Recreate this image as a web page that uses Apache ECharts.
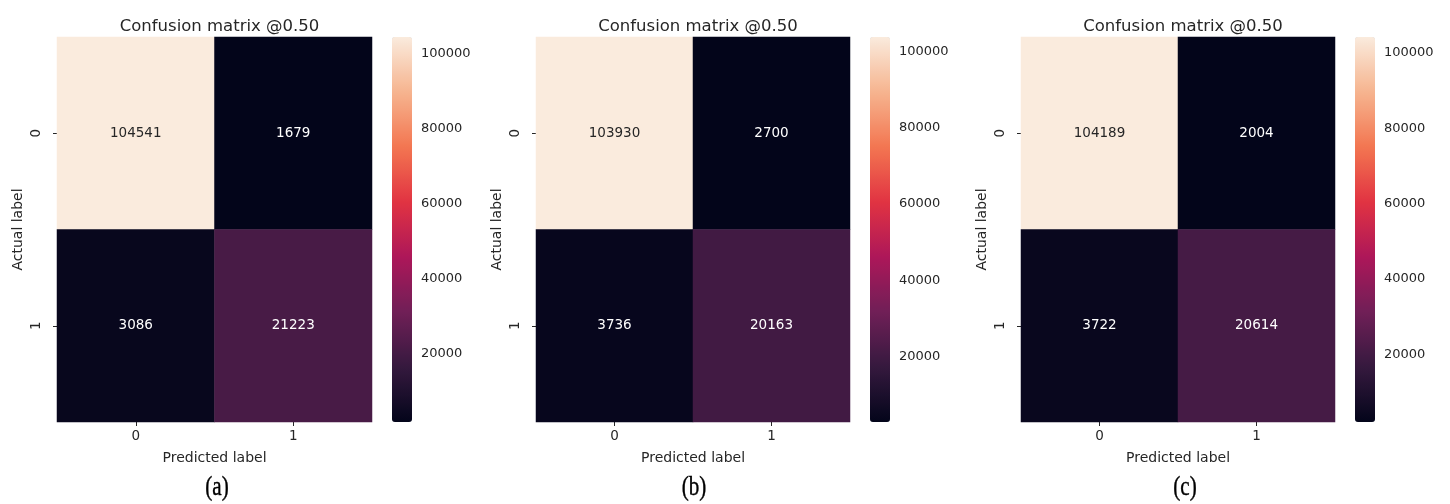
<!DOCTYPE html>
<html>
<head>
<meta charset="utf-8">
<script src="https://cdn.jsdelivr.net/npm/echarts@6/dist/echarts.min.js"></script>
<style>
html,body{margin:0;padding:0;background:#fff;}
#chart{width:1450px;height:504px;}
</style>
</head>
<body>
<div id="chart"></div>
<script>
// ---- data ----
const predictedLabels = ['0', '1'];
const actualLabels = ['0', '1'];
const matrixA = [[104541, 1679], [3086, 21223]];
const matrixB = [[103930, 2700], [3736, 20163]];
const matrixC = [[104189, 2004], [3722, 20614]];
const panelTitles = ['Confusion matrix @0.50', 'Confusion matrix @0.50', 'Confusion matrix @0.50'];
const panelTags = ['(a)', '(b)', '(c)'];
const colorbarTicks = [20000, 40000, 60000, 80000, 100000];
// seaborn "rocket" colormap samples (0 .. 1, evenly spaced)
const rocket = ['#03051a', '#35193e', '#701f57', '#ad1759', '#e13342', '#f37651', '#f6b48f', '#faebdd'];

// ---- layout ----
const panels = [
  { m: matrixA, left: 57, width: 315, top: 37, height: 385, cbLeft: 392, tagX: 217 },
  { m: matrixB, left: 536, width: 314, top: 37, height: 385, cbLeft: 870, tagX: 694 },
  { m: matrixC, left: 1021, width: 314, top: 37, height: 385, cbLeft: 1355, tagX: 1185 }
];
const txt = '#262626';
const font = 'DejaVu Sans';

const option = {
  animation: false,
  backgroundColor: '#ffffff',
  title: [], grid: [], xAxis: [], yAxis: [], visualMap: [], series: [], graphic: []
};

panels.forEach((p, i) => {
  const flat = p.m.flat();
  const vmin = Math.min(...flat), vmax = Math.max(...flat);
  const mid = (vmin + vmax) / 2;
  const data = [];
  p.m.forEach((row, r) => row.forEach((v, c) => {
    data.push({ value: [c, r, v], label: { color: v > mid ? txt : '#ffffff' } });
  }));

  option.title.push({
    text: panelTitles[i], left: p.left + p.width / 2, top: 13, textAlign: 'center',
    textStyle: { fontFamily: font, fontSize: 16.5, fontWeight: 'normal', color: txt }
  });
  option.graphic.push({
    type: 'text', x: p.tagX, y: 488, scaleX: 0.78, silent: true,
    style: { text: panelTags[i], align: 'center', verticalAlign: 'middle',
      font: '27px "Liberation Serif"', fill: '#000', stroke: '#000', lineWidth: 0.4 }
  });

  // heatmap grid
  const gi = option.grid.length;
  option.grid.push({ left: p.left, top: p.top, width: p.width, height: p.height });
  option.xAxis.push({
    type: 'category', gridIndex: gi, data: predictedLabels,
    name: 'Predicted label', nameLocation: 'middle', nameGap: 29,
    nameTextStyle: { fontFamily: font, fontSize: 14, color: txt },
    axisLine: { show: false },
    axisTick: { show: true, alignWithLabel: true, length: 4, lineStyle: { color: txt } },
    axisLabel: { fontFamily: font, fontSize: 13.5, color: txt, margin: 7 },
    splitLine: { show: false }
  });
  option.yAxis.push({
    type: 'category', gridIndex: gi, data: actualLabels, inverse: true,
    name: 'Actual label', nameLocation: 'middle', nameGap: 32, nameRotate: 90,
    nameTextStyle: { fontFamily: font, fontSize: 14, color: txt },
    axisLine: { show: false },
    axisTick: { show: true, alignWithLabel: true, length: 4, lineStyle: { color: txt } },
    axisLabel: { fontFamily: font, fontSize: 13.5, color: txt, rotate: 90, margin: 14 },
    splitLine: { show: false }
  });
  option.series.push({
    type: 'heatmap', xAxisIndex: gi, yAxisIndex: gi, data: data,
    label: { show: true, fontFamily: font, fontSize: 13.5 },
    itemStyle: { borderWidth: 0 },
    emphasis: { disabled: true }
  });
  const si = option.series.length - 1;

  // colorbar
  option.visualMap.push({
    type: 'continuous', seriesIndex: si, min: vmin, max: vmax,
    left: p.cbLeft, top: p.top, itemWidth: 20, itemHeight: p.height,
    padding: 0, calculable: false, realtime: false, hoverLink: false,
    inRange: { color: rocket }, text: null, showLabel: false
  });
  const ci = option.grid.length;
  option.grid.push({ left: p.cbLeft, top: p.top, width: 20, height: p.height });
  option.xAxis.push({ type: 'value', gridIndex: ci, show: false, min: 0, max: 1 });
  option.yAxis.push({
    type: 'value', gridIndex: ci, min: vmin, max: vmax, position: 'right',
    axisLine: { show: false },
    axisTick: { show: true, length: 4, customValues: colorbarTicks, lineStyle: { color: txt } },
    axisLabel: { show: true, customValues: colorbarTicks, formatter: v => String(v),
      fontFamily: font, fontSize: 13, color: txt, margin: 9 },
    splitLine: { show: false }
  });
});

const chart = echarts.init(document.getElementById('chart'), null, { renderer: 'canvas' });
chart.setOption(option);
</script>
</body>
</html>
